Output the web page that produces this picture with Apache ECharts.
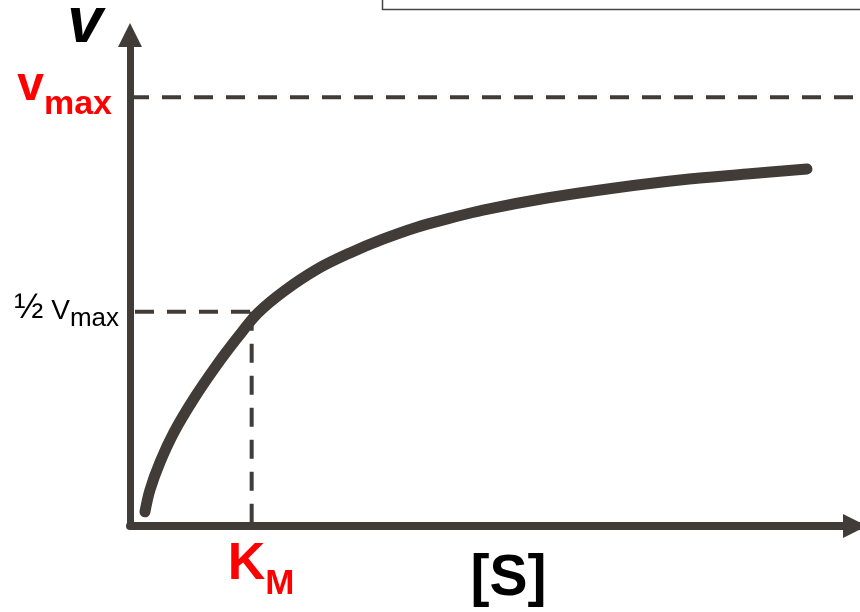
<!DOCTYPE html>
<html>
<head>
  <meta charset="utf-8">
  <title>Michaelis-Menten</title>
  <script src="https://cdn.jsdelivr.net/npm/echarts@6/dist/echarts.min.js"></script>
  <style>
    html, body { margin: 0; padding: 0; background: #fff; }
    #chart { width: 860px; height: 612px; }
  </style>
</head>
<body>
  <div id="chart"></div>
  <script type="application/javascript">
      // substrate concentration [S] (units of Km) and rate v (units of vmax)
      var substrate = [0.123, 0.164, 0.247, 0.362, 0.518, 0.707, 0.888, 1.052, 1.266, 1.537,
                       1.808, 2.079, 2.359, 2.630, 2.901, 3.427, 3.970, 4.521, 5.071, 5.564];
      var rate = [0.033, 0.084, 0.149, 0.219, 0.294, 0.373, 0.441, 0.497, 0.548, 0.599,
                  0.637, 0.669, 0.697, 0.718, 0.737, 0.765, 0.788, 0.807, 0.821, 0.833];
      var vmax = 1;
      var halfVmax = 0.5;
      var km = 1;
      var sMax = 6;
      var vTop = 1.15;
      var halfLineStart = 0.041;

      var ink = '#423c39';
      var font = '"Liberation Sans", Arial, sans-serif';

      var curve = [];
      for (var i = 0; i < substrate.length; i++) {
          curve.push([substrate[i], rate[i]]);
      }

      function dashed(points) {
          return {
              type: 'line',
              data: points,
              showSymbol: false,
              silent: true,
              clip: false,
              z: 2,
              lineStyle: { color: ink, width: 4, type: [19, 13] }
          };
      }

      var myChart = echarts.init(document.getElementById('chart'));
      myChart.setOption({
          animation: false,
          backgroundColor: '#fff',
          textStyle: { fontFamily: font },
          grid: { left: 130, right: 0, top: 33, bottom: 86, containLabel: false, outerBoundsMode: 'none' },
          graphic: [{
              type: 'rect',
              shape: { x: 382.5, y: -20, width: 520, height: 29.5 },
              style: { fill: 'none', stroke: '#4a4644', lineWidth: 1.5 }
          }],
          xAxis: {
              type: 'value',
              min: 0,
              max: sMax,
              splitLine: { show: false },
              axisTick: { show: false },
              axisLine: {
                  onZero: false,
                  symbol: ['none', 'triangle'],
                  symbolSize: [24, 24],
                  symbolOffset: [0, -5],
                  lineStyle: { color: ink, width: 8 }
              },
              axisLabel: {
                  customValues: [km],
                  margin: 13,
                  formatter: function () { return '{k|K}{m|M}'; },
                  rich: {
                      k: { fontSize: 52, fontWeight: 'bold', color: '#ff0000', fontFamily: font,
                           verticalAlign: 'top', padding: [0, 0, 0, 19] },
                      m: { fontSize: 35, fontWeight: 'bold', color: '#ff0000', fontFamily: font,
                           verticalAlign: 'top', padding: [28, 0, 0, 0] }
                  }
              },
              name: '[S]',
              nameLocation: 'middle',
              nameGap: 25,
              nameMoveOverlap: false,
              nameTextStyle: {
                  fontSize: 57, fontWeight: 'bold', color: '#000', fontFamily: font,
                  padding: [0, 0, 0, 27]
              }
          },
          yAxis: {
              type: 'value',
              min: 0,
              max: vTop,
              splitLine: { show: false },
              axisTick: { show: false },
              axisLine: {
                  onZero: false,
                  symbol: ['none', 'triangle'],
                  symbolSize: [24, 24],
                  symbolOffset: [0, -2],
                  lineStyle: { color: ink, width: 7 }
              },
              axisLabel: {
                  customValues: [halfVmax, vmax],
                  margin: 11,
                  formatter: function (value) {
                      return value === vmax ? '{v|v}{vs|max}' : '{f|½}{h| V}{hs|max}';
                  },
                  rich: {
                      v: { fontSize: 48, fontWeight: 'bold', color: '#ff0000', fontFamily: font,
                           verticalAlign: 'top' },
                      vs: { fontSize: 34, fontWeight: 'bold', color: '#ff0000', fontFamily: font,
                            verticalAlign: 'top', padding: [25, 7, 10, 0] },
                      f: { fontSize: 35, color: '#000', fontFamily: font, verticalAlign: 'top' },
                      h: { fontSize: 28, color: '#000', fontFamily: font,
                           verticalAlign: 'top', padding: [6, 0, 0, 0] },
                      hs: { fontSize: 26, color: '#000', fontFamily: font,
                            verticalAlign: 'top', padding: [15, 0, 0, 0] }
                  }
              },
              name: 'v',
              nameLocation: 'end',
              nameGap: -23,
              nameMoveOverlap: false,
              nameTextStyle: {
                  fontSize: 64, fontWeight: 'bold', fontStyle: 'italic', color: '#000', fontFamily: font,
                  padding: [0, 90, 0, 0]
              }
          },
          series: [
              dashed([[0, vmax], [sMax, vmax]]),
              dashed([[halfLineStart, halfVmax], [km, halfVmax]]),
              dashed([[km, halfVmax], [km, 0]]),
              {
                  type: 'line',
                  data: curve,
                  smooth: 0.35,
                  showSymbol: false,
                  silent: true,
                  z: 3,
                  lineStyle: { color: ink, width: 11, cap: 'round' }
              }
          ]
      });
  </script>
</body>
</html>
